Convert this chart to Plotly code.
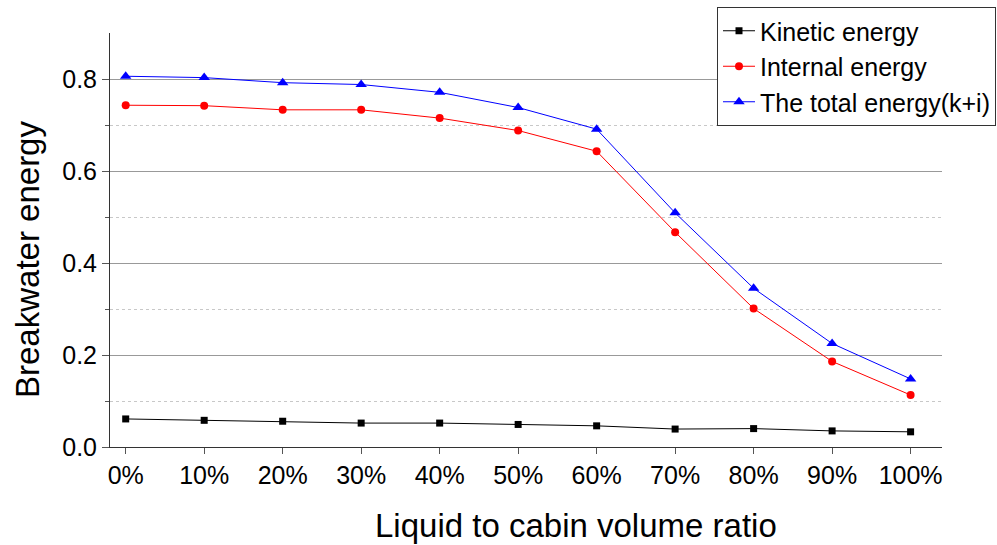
import plotly.graph_objects as go

ratio_pct = [0, 10, 20, 30, 40, 50, 60, 70, 80, 90, 100]
tick_labels = ["0%", "10%", "20%", "30%", "40%", "50%", "60%", "70%", "80%", "90%", "100%"]

kinetic = [0.061, 0.058, 0.056, 0.052, 0.052, 0.049, 0.046, 0.039, 0.040, 0.035, 0.033]
internal = [0.743, 0.742, 0.733, 0.733, 0.715, 0.688, 0.643, 0.467, 0.301, 0.186, 0.113]
total = [0.806, 0.803, 0.792, 0.788, 0.771, 0.738, 0.691, 0.509, 0.345, 0.225, 0.148]

x_title = "Liquid to cabin volume ratio"
y_title = "Breakwater energy"

fig = go.Figure()
fig.add_trace(go.Scatter(
    x=ratio_pct, y=kinetic, name="Kinetic energy", mode="lines+markers",
    line=dict(color="black", width=1),
    marker=dict(symbol="square", size=7, color="black"),
))
fig.add_trace(go.Scatter(
    x=ratio_pct, y=internal, name="Internal energy", mode="lines+markers",
    line=dict(color="#ff0000", width=1),
    marker=dict(symbol="circle", size=8, color="#ff0000"),
))
fig.add_trace(go.Scatter(
    x=ratio_pct, y=total, name="The total energy(k+i)", mode="lines+markers",
    line=dict(color="#0000ff", width=1),
    marker=dict(symbol="triangle-up", size=10, color="#0000ff"),
))

font_family = "Liberation Sans, Arial, sans-serif"

# Plot area in pixels: left 110, right 942, top 33, bottom 447
PLOT_L, PLOT_R, PLOT_T, PLOT_B = 110, 942, 33, 447
PW, PH = PLOT_R - PLOT_L, PLOT_B - PLOT_T

# Axis titles placed as paper-anchored annotations
fig.add_annotation(
    text=x_title, xref="paper", yref="paper",
    x=(576 - PLOT_L) / PW, y=-(525 - PLOT_B) / PH,
    xanchor="center", yanchor="middle", showarrow=False,
    font=dict(size=33, family=font_family, color="black"),
)
fig.add_annotation(
    text=y_title, xref="paper", yref="paper",
    x=-(PLOT_L - 27) / PW, y=(PLOT_B - 260) / PH,
    xanchor="center", yanchor="middle", showarrow=False, textangle=-90,
    font=dict(size=33, family=font_family, color="black"),
)

fig.update_layout(
    width=997, height=545,
    margin=dict(l=PLOT_L, r=997 - PLOT_R, t=PLOT_T, b=545 - PLOT_B, autoexpand=False),
    paper_bgcolor="white", plot_bgcolor="white",
    font=dict(family=font_family, color="black", size=25),
    showlegend=True,
    legend=dict(
        x=(996 - PLOT_L) / PW, y=(PLOT_B - 7) / PH, xanchor="right", yanchor="top",
        bgcolor="white", bordercolor="#333333", borderwidth=1,
        font=dict(size=25, family=font_family),
        tracegroupgap=0, itemwidth=32,
    ),
    xaxis=dict(
        range=[-2, 104],
        tickmode="array", tickvals=ratio_pct, ticktext=tick_labels,
        ticks="outside", ticklen=6, tickcolor="#555555",
        showline=True, linecolor="#333333", linewidth=1,
        showgrid=False, zeroline=False,
        tickfont=dict(size=25),
    ),
    yaxis=dict(
        range=[0, 0.9],
        tickmode="array", tickvals=[0, 0.2, 0.4, 0.6, 0.8],
        ticktext=["0.0", "0.2", "0.4", "0.6", "0.8"],
        ticks="outside", ticklen=7, tickcolor="#555555",
        showline=True, linecolor="#333333", linewidth=1,
        showgrid=True, gridcolor="#999999", gridwidth=1,
        zeroline=False,
        tickfont=dict(size=25),
        minor=dict(
            tickvals=[0.1, 0.3, 0.5, 0.7],
            ticks="outside", ticklen=4, tickcolor="#555555",
            showgrid=True, gridcolor="#c8c8c8", griddash="dot", gridwidth=1,
        ),
    ),
)

fig.write_html("out.html")
